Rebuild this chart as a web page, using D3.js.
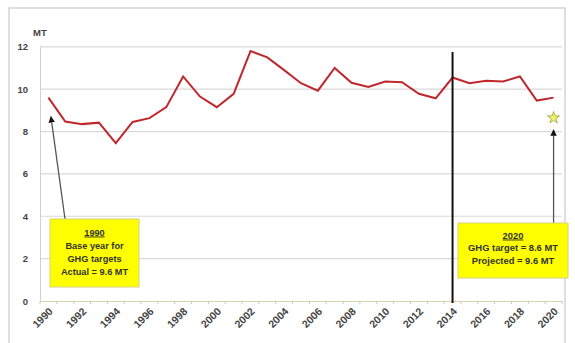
<!DOCTYPE html>
<html><head><meta charset="utf-8">
<script src="https://cdn.jsdelivr.net/npm/d3@7"></script>
<style>body{margin:0;background:#fff}svg{display:block}text{font-family:"Liberation Sans",Arial,sans-serif}</style>
</head><body><svg id="c" width="575" height="343"></svg>
<script>
const years = d3.range(1990, 2021);
const emissions = [9.6,8.47,8.35,8.42,7.45,8.45,8.63,9.15,10.6,9.65,9.15,9.78,11.8,11.5,10.9,10.28,9.93,11.0,10.3,10.1,10.36,10.33,9.78,9.57,10.55,10.28,10.4,10.36,10.6,9.46,9.6];
const yTicks = [0,2,4,6,8,10,12];
const xTickLabels = years.filter(y => y % 2 === 0);
const targetYear = 2020, targetValue = 8.6;
const markerYear = 2014;
const leftNote = ["1990","Base year for","GHG targets","Actual = 9.6 MT"];
const rightNote = ["2020","GHG target = 8.6 MT","Projected = 9.6 MT"];

const svg = d3.select("#c");
const L = 40, R = 562, T = 46.8, B = 301;
const x = d3.scaleBand().domain(years).range([L, R]);
const xc = v => x(v) + x.bandwidth()/2;
const y = d3.scaleLinear().domain([0,12]).range([B, T]);

svg.append("rect").attr("x",9).attr("y",8).attr("width",556).attr("height",340).attr("fill","none").attr("stroke","#c8c8c8").attr("stroke-width",1.2);

// gridlines
svg.append("g").selectAll("line").data(yTicks.filter(d=>d>0)).join("line")
  .attr("x1",L).attr("x2",R).attr("y1",d=>y(d)).attr("y2",d=>y(d))
  .attr("stroke","#d9d9d9").attr("stroke-width",1.2);

// y axis
const ya = svg.append("g").attr("transform",`translate(${L},0)`)
  .call(d3.axisLeft(y).tickValues(yTicks).tickSize(0).tickPadding(12));
ya.select(".domain").attr("stroke","#d0d0d0");
ya.selectAll("text").attr("font-size",9.5).attr("font-weight","bold").attr("fill","#444");
svg.append("text").attr("x",33).attr("y",36).attr("font-size",9.5).attr("font-weight","bold").attr("fill","#444").text("MT");

// x axis
const xa = svg.append("g").attr("transform",`translate(0,${B})`)
  .call(d3.axisBottom(x).tickSize(0).tickFormat(""));
xa.select(".domain").attr("stroke","#d8d4b0");
svg.append("g").selectAll("line").data(years.concat([2021])).join("line")
  .attr("x1",d=>d===2021?R:x(d)).attr("x2",d=>d===2021?R:x(d))
  .attr("y1",B).attr("y2",B+3).attr("stroke","#c8c8c8");
svg.append("g").selectAll("text").data(xTickLabels).join("text")
  .attr("transform",d=>`translate(${xc(d)+5},${B+11}) rotate(-45)`)
  .attr("text-anchor","end").attr("font-size",10.5).attr("font-weight","bold").attr("fill","#444")
  .text(d=>d);

// line
svg.append("path").datum(emissions)
  .attr("fill","none").attr("stroke","#c0272d").attr("stroke-width",2)
  .attr("d", d3.line().x((d,i)=>xc(years[i])).y(d=>y(d)));

// vertical marker
svg.append("line").attr("x1",xc(markerYear)).attr("x2",xc(markerYear))
  .attr("y1",52).attr("y2",B+2).attr("stroke","#111").attr("stroke-width",2);

// arrows
const defs = svg.append("defs");
defs.append("marker").attr("id","ah").attr("viewBox","0 0 10 10").attr("refX",9).attr("refY",5)
  .attr("markerWidth",5).attr("markerHeight",5).attr("orient","auto")
  .append("path").attr("d","M0,0L10,5L0,10z").attr("fill","#111");
svg.append("line").attr("x1",65).attr("y1",219).attr("x2",xc(1990)+2.5).attr("y2",y(emissions[0])+19)
  .attr("stroke","#555").attr("stroke-width",1.3).attr("marker-end","url(#ah)");
svg.append("line").attr("x1",xc(targetYear)).attr("y1",223).attr("x2",xc(targetYear)).attr("y2",y(targetValue)+11)
  .attr("stroke","#555").attr("stroke-width",1.3).attr("marker-end","url(#ah)");

// star
const star = d3.symbol().type(d3.symbolStar).size(45);
svg.append("path").attr("d",star()).attr("transform",`translate(${xc(targetYear)},${y(targetValue)-1})`)
  .attr("fill","#f3f36a").attr("stroke","#9aa33a").attr("stroke-width",0.8);

// note boxes
function note(x0,y0,w,h,lines,lh,firstY,fs){
  svg.append("rect").attr("x",x0).attr("y",y0).attr("width",w).attr("height",h)
    .attr("fill","#ffff00").attr("stroke","#d6d27a").attr("stroke-width",1);
  lines.forEach((t,i)=>{
    const tx = svg.append("text").attr("x",x0+w/2).attr("y",firstY+i*lh).attr("text-anchor","middle")
      .attr("font-size",fs).attr("font-weight","bold").attr("fill","#333").text(t);
    if(i===0) tx.attr("text-decoration","underline");
  });
}
note(50,219,89,68,leftNote,13.3,235.5,9.2);
note(458,223,110,55,rightNote,12.8,238.5,9.4);
</script></body></html>
